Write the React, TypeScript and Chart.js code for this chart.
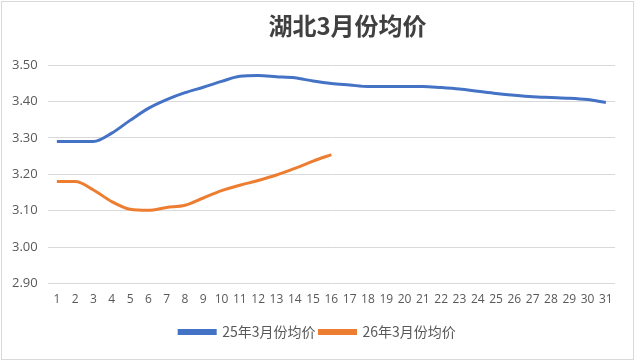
import React, { useEffect, useRef } from "react";
import { Chart, registerables } from "chart.js";

Chart.register(...registerables);

const days = Array.from({ length: 31 }, (_, i) => String(i + 1));
const series25Label = "25年3月份均价";
const series26Label = "26年3月份均价";
const series25 = [
  3.29, 3.29, 3.29, 3.313, 3.348, 3.381, 3.405, 3.424, 3.439, 3.455, 3.469,
  3.471, 3.468, 3.465, 3.456, 3.449, 3.445, 3.441, 3.441, 3.441, 3.441,
  3.438, 3.434, 3.428, 3.422, 3.417, 3.413, 3.411, 3.409, 3.405, 3.397,
];
const series26 = [
  3.18, 3.18, 3.157, 3.125, 3.104, 3.101, 3.109, 3.115, 3.135, 3.155, 3.17,
  3.183, 3.198, 3.216, 3.236, 3.254,
];
const titleText = "湖北3月份均价";

export default function App() {
  const ref = useRef<HTMLCanvasElement>(null);
  useEffect(() => {
    if (!ref.current) return;
    const titlePlugin = {
      id: "customTitle",
      afterLayout(chart: any) {
        if (chart.legend) {
          chart.legend.left += 9;
          chart.legend.right += 9;
        }
      },
      afterDraw(chart: any) {
        const ctx = chart.ctx;
        ctx.save();
        ctx.font = "bold 24px 'Noto Sans CJK SC', sans-serif";
        ctx.fillStyle = "#404040";
        ctx.textAlign = "center";
        ctx.textBaseline = "middle";
        ctx.fillText(titleText, chart.width / 2 + 30, 26);
        ctx.restore();
      },
    };
    const chart = new Chart(ref.current, {
      type: "line",
      data: {
        labels: days,
        datasets: [
          {
            label: series25Label,
            data: series25,
            borderColor: "#4472C4",
            backgroundColor: "#4472C4",
            borderWidth: 3,
            pointRadius: 0,
            tension: 0.35,
            cubicInterpolationMode: "monotone",
          },
          {
            label: series26Label,
            data: series26,
            borderColor: "#ED7D31",
            backgroundColor: "#ED7D31",
            borderWidth: 3,
            pointRadius: 0,
            tension: 0.35,
            cubicInterpolationMode: "monotone",
          },
        ],
      },
      options: {
        animation: false,
        responsive: false,
        layout: { padding: { top: 65, left: 2, right: 20, bottom: 13 } },
        plugins: {
          title: { display: false },
          tooltip: { enabled: false },
          legend: {
            position: "bottom",
            labels: {
              boxWidth: 36,
              boxHeight: 3,
              padding: 4,
              color: "#595959",
              font: { size: 14, family: "'Noto Sans CJK SC', sans-serif" },
            },
          },
        },
        scales: {
          x: {
            offset: true,
            grid: { display: false },
            border: { display: false },
            afterFit: (scale: any) => {
              scale.height += 13;
            },
            ticks: {
              color: "#595959",
              autoSkip: false,
              maxRotation: 0,
              padding: 1,
              font: { size: 12, family: "'Open Sans', sans-serif" },
            },
          },
          y: {
            min: 2.9,
            max: 3.5,
            grid: { color: "#d9d9d9", drawTicks: false },
            border: { display: false },
            ticks: {
              stepSize: 0.1,
              color: "#595959",
              padding: 10,
              font: { size: 13, family: "'Open Sans', sans-serif" },
              callback: (v: any) => Number(v).toFixed(2),
            },
          },
        },
      },
      plugins: [titlePlugin],
    });
    return () => chart.destroy();
  }, []);
  return (
    <div
      style={{
        position: "fixed",
        left: 0,
        top: 0,
        width: 635,
        height: 362,
        background: "#fff",
      }}
    >
      <div
        style={{
          position: "absolute",
          left: 1,
          top: 1,
          width: 631,
          height: 357,
          border: "1px solid #d9d9d9",
        }}
      />
      <canvas ref={ref} width={635} height={362} style={{ position: "absolute", left: 0, top: 0 }} />
    </div>
  );
}
